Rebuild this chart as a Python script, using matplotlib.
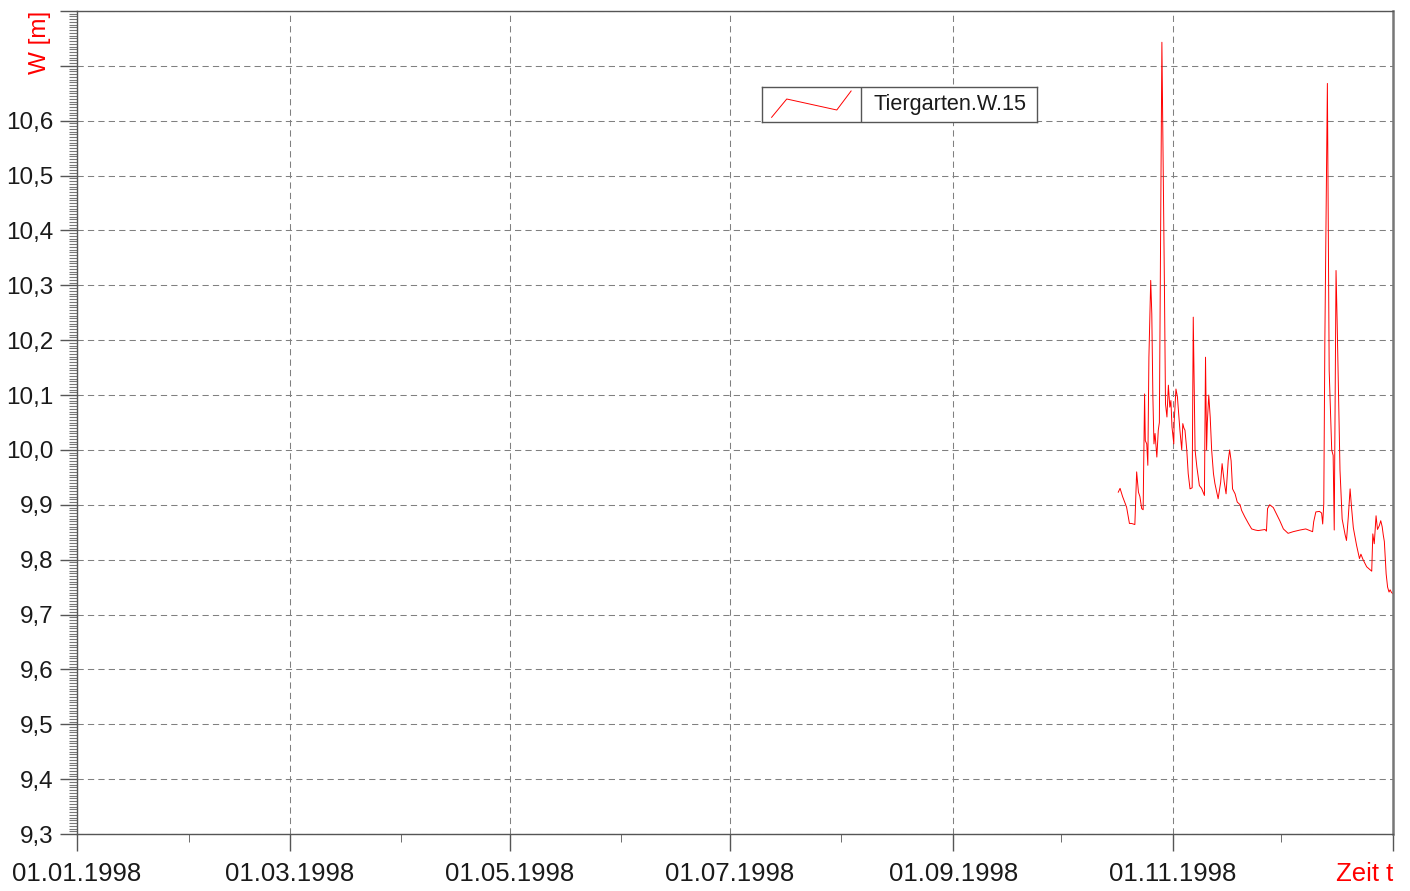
import matplotlib
matplotlib.use('Agg')
import matplotlib.pyplot as plt
from matplotlib.ticker import MultipleLocator, FixedLocator
import numpy as np
import pandas as pd

plt.rcParams['font.family'] = ['Liberation Sans', 'DejaVu Sans']

# water level Tiergarten.W.15 (day of year 1998, W in m)
day_of_year = [288.8, 289.3, 290.0, 290.4, 291.1, 291.9, 292.5, 293.4, 293.9, 294.4,
               294.8, 295.3, 295.7, 296.1, 296.3, 296.7, 297.0, 297.3, 297.8, 298.1,
               298.4, 298.7, 299.0, 299.5, 299.9, 300.2, 300.9, 301.6, 301.9, 302.3,
               302.7, 303.1, 303.4, 303.7, 304.2, 304.3, 304.8, 305.2, 305.5, 305.9,
               306.4, 306.7, 307.0, 307.3, 307.8, 308.2, 308.7, 309.3, 309.6, 310.1,
               310.6, 311.3, 311.9, 312.7, 313.0, 313.3, 313.5, 313.9, 314.3, 314.7,
               315.2, 315.6, 316.5, 317.2, 317.6, 318.2, 318.7, 319.3, 319.7, 320.1,
               320.5, 321.2, 321.8, 322.6, 323.0, 323.9, 324.9, 325.8, 326.8, 327.6,
               328.6, 329.5, 329.9, 330.2, 330.8, 331.8, 332.7, 333.6, 334.6, 335.9,
               337.3, 339.2, 340.8, 342.7, 343.0, 343.6, 344.6, 345.2, 345.5, 345.8,
               346.1, 346.8, 347.3, 348.0, 348.4, 348.7, 349.2, 349.5, 350.3, 350.9,
               351.7, 352.1, 352.6, 353.1, 353.5, 354.0, 354.9, 355.7, 356.1, 356.7,
               357.7, 359.1, 359.4, 359.8, 360.3, 360.7, 361.2, 361.6, 362.0, 362.3,
               362.6, 363.1, 363.5, 363.9, 364.2, 364.6, 365.0]
water_level = [9.923, 9.930, 9.915, 9.908, 9.896, 9.866, 9.866, 9.864, 9.960, 9.923,
               9.915, 9.893, 9.891, 10.102, 10.017, 10.011, 9.972, 10.169, 10.309, 10.248,
               10.097, 10.011, 10.030, 9.987, 10.036, 10.050, 10.743, 10.300, 10.084, 10.060,
               10.118, 10.078, 10.090, 10.042, 10.011, 10.050, 10.111, 10.097, 10.070, 10.036,
               10.000, 10.048, 10.040, 10.036, 10.000, 9.957, 9.929, 9.931, 10.242, 10.000,
               9.969, 9.935, 9.930, 9.917, 10.169, 10.000, 10.050, 10.100, 10.060, 10.000,
               9.957, 9.939, 9.911, 9.941, 9.975, 9.941, 9.920, 9.981, 10.000, 9.980,
               9.929, 9.920, 9.905, 9.900, 9.890, 9.878, 9.866, 9.856, 9.854, 9.853,
               9.854, 9.855, 9.852, 9.893, 9.900, 9.895, 9.883, 9.871, 9.856, 9.848,
               9.851, 9.854, 9.856, 9.851, 9.869, 9.887, 9.888, 9.885, 9.865, 9.902,
               10.200, 10.668, 10.145, 10.000, 9.990, 9.854, 10.327, 10.236, 9.963, 9.874,
               9.846, 9.835, 9.878, 9.929, 9.895, 9.858, 9.826, 9.802, 9.810, 9.800,
               9.787, 9.779, 9.847, 9.829, 9.880, 9.855, 9.862, 9.871, 9.860, 9.845,
               9.833, 9.774, 9.750, 9.741, 9.745, 9.740, 9.738]
series_name = 'Tiergarten.W.15'

x_tick_dates = ['1998-01-01', '1998-03-01', '1998-05-01', '1998-07-01',
                '1998-09-01', '1998-11-01', '1999-01-01']
x_tick_labels = ['01.01.1998', '01.03.1998', '01.05.1998', '01.07.1998',
                 '01.09.1998', '01.11.1998', 'Zeit t']
x_minor_dates = ['1998-02-01', '1998-04-01', '1998-06-01', '1998-08-01',
                 '1998-10-01', '1998-12-01']
y_ticks = [9.3, 9.4, 9.5, 9.6, 9.7, 9.8, 9.9, 10.0, 10.1, 10.2, 10.3, 10.4,
           10.5, 10.6, 10.7, 10.8]
y_tick_labels = ['9,3', '9,4', '9,5', '9,6', '9,7', '9,8', '9,9', '10,0', '10,1',
                 '10,2', '10,3', '10,4', '10,5', '10,6', '', '']

times = pd.Timestamp('1998-01-01') + pd.to_timedelta(day_of_year, unit='D')

fig = plt.figure(figsize=(14.1, 8.91), dpi=100)
ax = fig.add_axes([77 / 1410, 1 - 834 / 891, (1393 - 77) / 1410, (834 - 11) / 891])

ax.plot(times, water_level, color='#ff0000', linewidth=0.7)

ax.set_xlim(pd.Timestamp('1998-01-01'), pd.Timestamp('1999-01-01'))
ax.set_ylim(9.3, 10.8)

ax.set_xticks(pd.to_datetime(x_tick_dates))
ax.set_xticklabels(x_tick_labels)
ax.xaxis.set_minor_locator(FixedLocator(matplotlib.dates.date2num(pd.to_datetime(x_minor_dates))))
ax.set_yticks(y_ticks)
ax.set_yticklabels(y_tick_labels)
ax.yaxis.set_minor_locator(MultipleLocator(0.005))

ax.tick_params(axis='both', which='major', colors='#555555',
               labelcolor='#1a1a1a', width=1)
ax.tick_params(axis='x', which='major', length=12, pad=8, labelsize=18.5)
ax.tick_params(axis='x', which='minor', length=6, color='#555555')
ax.tick_params(axis='y', which='major', length=12, pad=5, labelsize=17.5)
ax.tick_params(axis='y', which='minor', length=6, color='#777777', width=0.8)

last = ax.get_xticklabels()[-1]
last.set_color('#ff0000')
last.set_ha('right')

ax.grid(True, which='major', color='#808080', linestyle=(0, (6, 4)), linewidth=0.75)

for side in ['left', 'bottom', 'top']:
    ax.spines[side].set_color('#555555')
    ax.spines[side].set_linewidth(1)
ax.spines['right'].set_color('#777777')
ax.spines['right'].set_linewidth(1.8)

fig.text(40 / 1410, 1 - 11 / 891, 'W [m]', rotation=90, ha='center', va='top',
         fontsize=17.5, color='#ff0000')

# legend box drawn like the original (zigzag sample | name)
lax = fig.add_axes([762 / 1410, 1 - 122 / 891, 275 / 1410, 35 / 891])
lax.set_xlim(0, 1)
lax.set_ylim(0, 1)
lax.set_xticks([])
lax.set_yticks([])
for s in lax.spines.values():
    s.set_color('#555555')
    s.set_linewidth(1)
lax.plot([0.035, 0.090, 0.272, 0.324], [0.134, 0.657, 0.343, 0.886],
         color='#ff0000', linewidth=0.7)
lax.axvline(0.36, color='#555555', linewidth=1)
lax.text(0.405, 0.5, series_name, fontsize=15.6, va='center', ha='left', color='#1a1a1a')

fig.savefig('out.png', dpi=100)
